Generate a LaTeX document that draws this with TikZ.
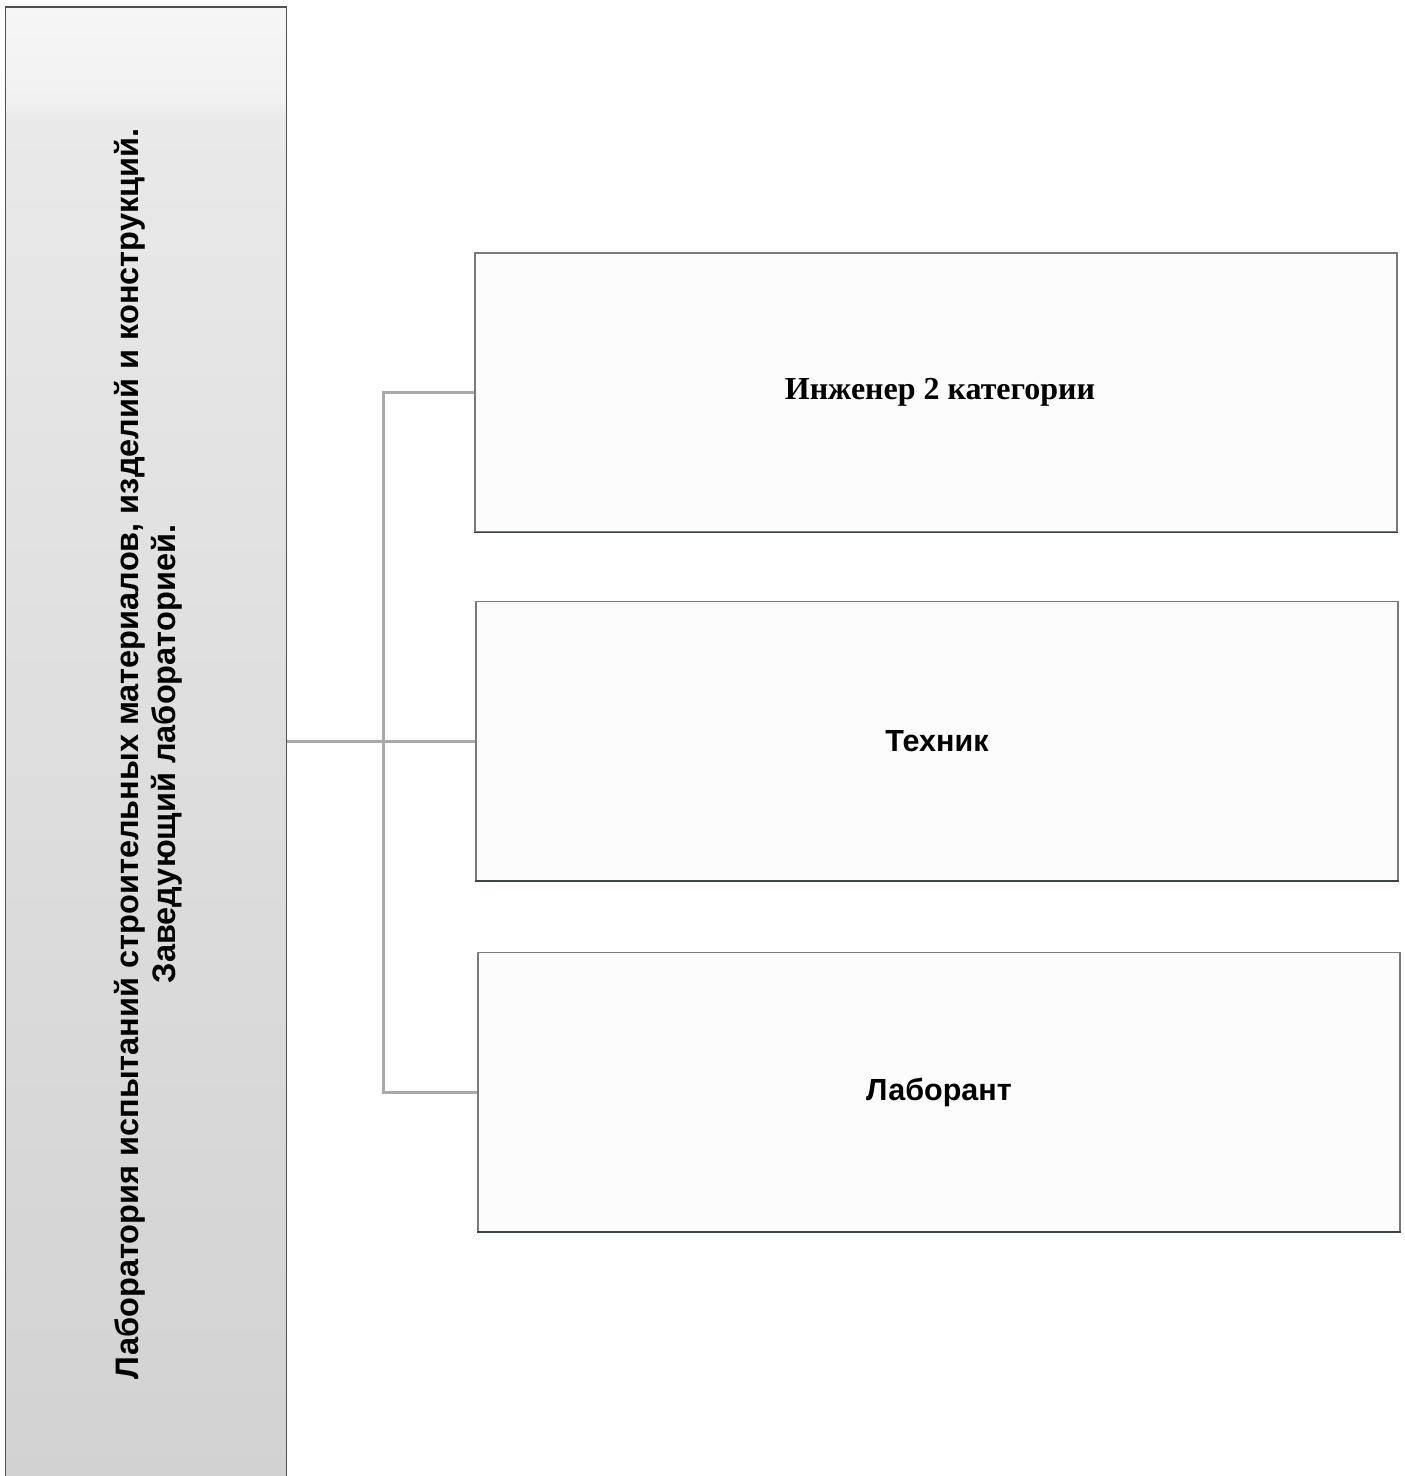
\documentclass[tikz,border=0pt]{standalone}
\usepackage{fontspec}
\setmainfont{Liberation Serif}
\newfontfamily\arialf{Liberation Sans}
\definecolor{conncol}{HTML}{A9A9A9}
\definecolor{boxline}{HTML}{7A7A7A}
\definecolor{boxdark}{HTML}{3C4646}
\definecolor{labline}{HTML}{505050}
\definecolor{sA}{HTML}{F6F6F6}
\definecolor{sB}{HTML}{F1F1F1}
\definecolor{sC}{HTML}{E9E9E9}
\definecolor{sD}{HTML}{DEDEDE}
\definecolor{sE}{HTML}{D2D2D2}
\pgfdeclareverticalshading{labshade}{100bp}{%
  color(0bp)=(sE); color(25bp)=(sE); color(50bp)=(sD);
  color(71.2bp)=(sC); color(71.8bp)=(sB); color(75bp)=(sA); color(100bp)=(sA)}
\tikzset{
  labbox/.style={draw=labline, line width=1.4pt, shading=labshade, shade,
    minimum width=281pt, minimum height=1478pt, inner sep=0pt,
    align=center, font=\arialf\bfseries\fontsize{32.5}{37}\selectfont},
  rolebox/.style={draw=boxline, line width=1.3pt, fill=white!99!black,
    minimum width=922pt, minimum height=279pt, inner sep=0pt},
  conn/.style={draw=conncol, line width=3pt}
}
\begin{document}
\begin{tikzpicture}[x=1pt,y=-1pt]
\useasboundingbox (0,0) rectangle (1405,1476);
\fill[white] (0,0) rectangle (1405,1476);
\node[labbox] (lab) at (146,746) {\raisebox{-8pt}[\height][\depth]{\hspace*{4pt}\rotatebox{90}{\begin{tabular}{c}Лаборатория испытаний строительных материалов, изделий и конструкций.\\ Заведующий лабораторией.\end{tabular}}\hspace*{-4pt}}};
\node[rolebox, font=\bfseries\fontsize{32}{36}\selectfont] (eng) at (936,392.5) {\hspace*{8pt}Инженер 2 категории};
\node[rolebox, font=\arialf\bfseries\fontsize{30.5}{36}\selectfont] (tech) at (937,741) {Техник};
\node[rolebox, font=\arialf\bfseries\fontsize{30.5}{36}\selectfont] (lbr) at (939,1092) {Лаборант};
\foreach \n in {eng,tech,lbr} \draw[boxdark, line width=1.6pt] (\n.south west) -- (\n.south east);
\coordinate (bus) at (383,0);
\draw[conn] (lab.east |- tech.west) -- (tech.west);
\draw[conn] (eng.west) -- (eng.west -| bus) -- (lbr.west -| bus) -- (lbr.west);
\end{tikzpicture}
\end{document}
